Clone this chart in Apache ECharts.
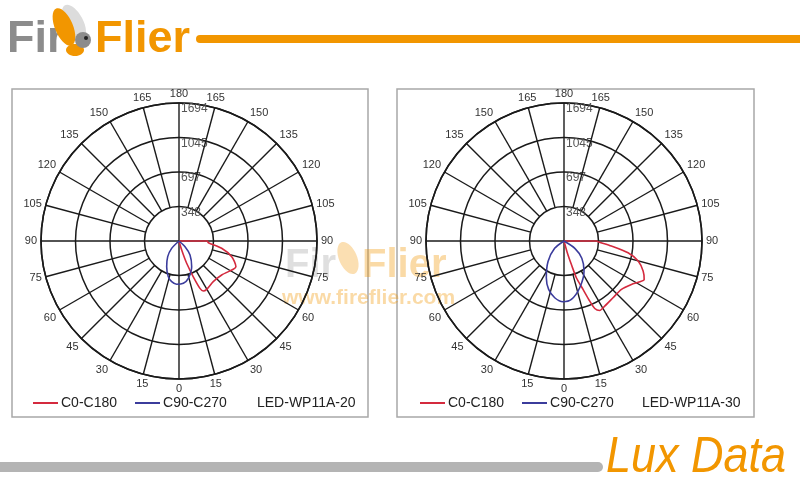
<!DOCTYPE html>
<html><head><meta charset="utf-8">
<script src="https://cdn.jsdelivr.net/npm/echarts@6/dist/echarts.min.js"></script>
<style>html,body{margin:0;padding:0;background:#fff}#c{width:800px;height:490px}</style>
</head><body><div id="c"></div>
<script>
// ---- data ----
const ringValues = [348.5, 697, 1045.5, 1394];
const ringLabels = ['348', '697', '1045', '1694'];
const legendNames = ['C0-C180', 'C90-C270'];
const modelNames = ['LED-WP11A-20', 'LED-WP11A-30'];
const spokeStep = 15;
// gamma in degrees: 0 = down (nadir); positive = C0 / C90 side (right), negative = C180 / C270 side (left)
const redGammaA = [14, 16.7, 19, 21.8, 23.9, 25.9, 29.8, 40.1, 51.5, 62.5, 65.7, 73.4, 80.3, 86.7, 90, 90];
const redLuxA   = [0, 95, 238, 389, 523, 562, 563, 537, 551, 618, 631, 556, 437, 297, 285, 0];
const blueGammaA = [-50, -45, -35.8, -25.6, -16.7, -10.2, -3.1, 5.9, 14, 26.3, 38.2, 46.5, 50];
const blueLuxA   = [0, 105, 195, 288, 376, 417, 438, 429, 389, 289, 180, 84, 0];
const redGammaB = [14, 15.7, 17.4, 18.6, 21.5, 23.2, 24.5, 27.2, 32, 40.8, 49.9, 57.2, 61.7, 64.4, 69.2, 74.9, 79.6, 84, 88.8, 90, 90];
const redLuxB   = [0, 123, 247, 392, 525, 661, 749, 789, 776, 758, 759, 810, 869, 898, 855, 776, 658, 482, 344, 330, 0];
const blueGammaB = [-58, -52, -38, -25.7, -17.6, -9.3, -0.9, 7.2, 18.6, 33.7, 46, 56, 62];
const blueLuxB   = [0, 120, 262, 412, 513, 581, 614, 595, 498, 365, 250, 132, 0];

const RED = '#d42a3e', BLUE = '#3b3c9c', ORANGE = '#f29600', FONT = '"Liberation Sans", Arial, sans-serif';

function toPolar(gammas, lux) { return gammas.map((g, i) => [lux[i], 180 - g]); }

const chart = echarts.init(document.getElementById('c'));
const polars = [{ center: [179, 241], radius: 138 }, { center: [564, 241], radius: 138 }];
const curves = [
  [toPolar(redGammaA, redLuxA), toPolar(blueGammaA, blueLuxA)],
  [toPolar(redGammaB, redLuxB), toPolar(blueGammaB, blueLuxB)]
];
const maxR = ringValues[ringValues.length - 1];

const angleAxis = [], radiusAxis = [], series = [];
polars.forEach((p, pi) => {
  angleAxis.push({
    polarIndex: pi, type: 'value', min: 0, max: 360, interval: 15, startAngle: 90, clockwise: true,
    axisLine: { show: true, lineStyle: { color: '#1a1a1a', width: 1.6 } },
    axisTick: { show: false }, splitLine: { show: false },
    axisLabel: {
      margin: 4, fontSize: 11, color: '#333', fontFamily: FONT,
      formatter: v => v >= 360 ? '' : String(v <= 180 ? 180 - v : v - 180)
    }
  });
  radiusAxis.push({
    polarIndex: pi, type: 'value', min: 0, max: maxR, interval: ringValues[0],
    axisLine: { show: false }, axisTick: { show: false },
    splitLine: { show: true, lineStyle: { color: '#1a1a1a', width: 1.5 } },
    axisLabel: {
      fontSize: 12, color: '#555', fontFamily: FONT, margin: -2, align: 'left', verticalAlign: 'top',
      formatter: v => { const i = ringValues.indexOf(v); return i >= 0 ? ringLabels[i] : ''; }
    }
  });
  for (let a = 0; a < 360; a += spokeStep) {
    const r0 = (a % 90 === 0) ? 0 : ringValues[0];
    series.push({
      type: 'line', coordinateSystem: 'polar', polarIndex: pi, silent: true, symbol: 'none',
      lineStyle: { color: '#1a1a1a', width: 1.4 }, data: [[r0, a], [maxR, a]], z: 1, animation: false
    });
  }
  series.push({
    name: legendNames[0], type: 'line', coordinateSystem: 'polar', polarIndex: pi, symbol: 'none',
    smooth: 0.25, color: RED, lineStyle: { color: RED, width: 1.6 }, data: curves[pi][0], z: 5, animation: false
  });
  series.push({
    name: legendNames[1], type: 'line', coordinateSystem: 'polar', polarIndex: pi, symbol: 'none',
    smooth: 0.25, color: BLUE, lineStyle: { color: BLUE, width: 1.6 }, data: curves[pi][1], z: 5, animation: false
  });
});

const legendCommon = {
  top: 396, icon: 'rect', itemWidth: 25, itemHeight: 2, itemGap: 18, padding: 0, selectedMode: false,
  textStyle: { fontSize: 14, color: '#222', fontFamily: FONT, padding: [0, 0, 0, -2] },
  data: legendNames
};

chart.setOption({
  animation: false,
  polar: polars,
  angleAxis, radiusAxis, series,
  legend: [Object.assign({ left: 33 }, legendCommon), Object.assign({ left: 420 }, legendCommon)],
  title: [
    { text: modelNames[0], left: 257, top: 396, padding: 0, textStyle: { fontSize: 14, fontWeight: 'normal', color: '#222', fontFamily: FONT } },
    { text: modelNames[1], left: 642, top: 396, padding: 0, textStyle: { fontSize: 14, fontWeight: 'normal', color: '#222', fontFamily: FONT } }
  ],
  graphic: [
    // frames
    { type: 'rect', shape: { x: 12, y: 89, width: 356, height: 328 }, style: { fill: 'none', stroke: '#a8a8a8', lineWidth: 1.5 }, z: -1 },
    { type: 'rect', shape: { x: 397, y: 89, width: 357, height: 328 }, style: { fill: 'none', stroke: '#a8a8a8', lineWidth: 1.5 }, z: -1 },
    // header
    { type: 'line', shape: { x1: 200, y1: 39, x2: 810, y2: 39 }, style: { stroke: ORANGE, lineWidth: 8, lineCap: 'round' } },
    { type: 'text', left: 7, top: 17, style: { text: 'Fir', fill: '#8c8c8c', font: 'bold 45px ' + FONT } },
    { type: 'ellipse', shape: { cx: 74, cy: 22, rx: 9, ry: 19 }, rotation: 0.5, originX: 74, originY: 22, style: { fill: '#dcdcdc' } },
    { type: 'ellipse', shape: { cx: 64, cy: 27, rx: 9, ry: 20 }, rotation: 0.4, originX: 64, originY: 27, style: { fill: ORANGE } },
    { type: 'ellipse', shape: { cx: 75, cy: 50, rx: 9, ry: 6 }, style: { fill: ORANGE } },
    { type: 'circle', shape: { cx: 83, cy: 40, r: 8 }, style: { fill: '#8c8c8c' } },
    { type: 'circle', shape: { cx: 86, cy: 38, r: 2 }, style: { fill: '#222' } },
    { type: 'text', left: 95, top: 17, style: { text: 'Flier', fill: ORANGE, font: 'bold 45px ' + FONT } },
    // footer
    { type: 'line', shape: { x1: -10, y1: 467, x2: 598, y2: 467 }, style: { stroke: '#b4b4b4', lineWidth: 10, lineCap: 'round' } },
    { type: 'text', x: 606, y: 433, scaleX: 0.9, style: { text: 'Lux Data', fill: ORANGE, font: 'italic 50px ' + FONT } },
    // watermark
    { type: 'group', z: 100, silent: true, children: [
      { type: 'text', x: 285, y: 246, style: { text: 'Fir', fill: 'rgba(150,150,150,0.3)', font: 'bold 40px ' + FONT } },
      { type: 'ellipse', shape: { cx: 348, cy: 258, rx: 9, ry: 17 }, rotation: 0.4, originX: 348, originY: 258, style: { fill: 'rgba(242,150,0,0.3)' } },
      { type: 'text', x: 362, y: 246, style: { text: 'Flier', fill: 'rgba(242,150,0,0.35)', font: 'bold 40px ' + FONT } },
      { type: 'text', x: 282, y: 288, style: { text: 'www.fireflier.com', fill: 'rgba(242,150,0,0.35)', font: 'bold 21px ' + FONT } }
    ] }
  ]
});
</script></body></html>
